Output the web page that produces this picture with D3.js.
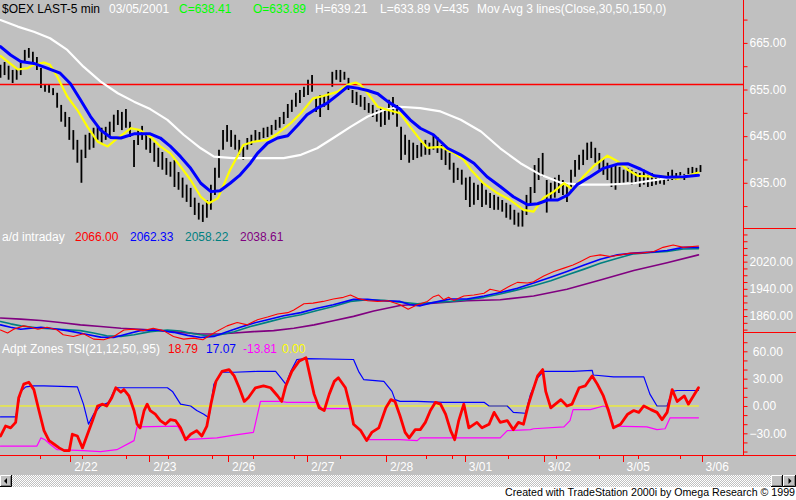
<!DOCTYPE html>
<html><head><meta charset="utf-8">
<script src="https://cdn.jsdelivr.net/npm/d3@7"></script>
<style>
body{margin:0;background:#fff}
svg{display:block}
text{font-family:"Liberation Sans",Arial,sans-serif}
</style>
</head><body><svg id="c" width="796" height="500"></svg>
<script>
// ---------------- DATA ----------------
const dayLabels = ["2/22","2/23","2/26","2/27","2/28","3/01","3/02","3/05","3/06"];
const dayStartBars = [69,147,225,303,381,459,537,615,693];
const minorTickBars = [39,81,124,166,209,250,290,336,421,446,502,549,592,630,672];
const barStep = 4;
const priceHigh = [660.3,660.9,660.1,659.2,659.6,661.3,663.5,663.9,663.1,662.0,
659.6,656.2,656.0,655.3,654.3,651.7,650.2,649.1,646.3,644.2,
642.1,645.3,645.7,646.8,647.0,646.8,647.0,648.1,649.6,650.6,
650.2,650.8,648.1,644.2,646.3,647.2,645.7,644.6,643.6,642.5,
641.6,640.3,639.5,639.9,637.3,636.1,634.6,633.9,631.8,630.7,
630.3,631.3,634.6,638.2,642.1,646.3,647.4,646.3,645.3,644.2,
642.7,644.6,645.3,646.3,645.9,646.8,647.0,647.4,648.5,649.1,
650.2,651.9,652.8,654.3,654.9,655.6,657.1,658.1,653.2,653.8,
653.8,654.5,658.8,659.2,659.2,658.8,657.5,654.9,654.5,653.8,
653.4,652.1,651.7,650.6,651.1,650.6,652.8,653.4,651.7,647.0,
645.3,644.2,643.6,643.1,643.6,644.2,643.6,645.3,644.8,643.1,
642.1,641.4,639.3,638.2,637.8,636.1,636.3,635.0,634.6,635.0,
633.5,632.8,632.4,632.0,631.3,630.7,630.3,629.2,628.6,629.2,
632.4,634.1,638.8,640.3,641.4,635.6,635.0,636.1,636.7,635.6,
635.0,637.8,639.9,641.0,642.1,643.6,643.8,642.5,641.4,640.3,
639.3,638.4,638.8,638.4,637.8,638.2,637.8,637.3,637.1,637.8,
636.7,637.1,636.3,636.5,636.1,637.3,637.8,637.1,637.3,636.9,
638.2,638.4,638.2,638.8];
const priceLow = [657.5,658.1,657.1,656.4,657.1,658.1,660.9,661.8,660.9,659.2,
655.3,654.5,654.3,653.8,651.1,648.1,647.0,644.2,642.1,639.3,
635.0,640.3,642.1,642.5,644.2,643.6,644.2,644.8,645.9,647.4,
646.3,646.8,644.8,638.4,643.1,644.2,642.1,641.4,639.5,638.4,
637.8,636.7,636.3,634.1,633.5,631.8,630.9,629.8,628.1,627.1,
626.6,627.5,629.2,632.4,636.1,642.1,643.8,642.7,642.1,641.0,
639.9,642.1,643.1,643.8,644.2,644.6,644.8,645.3,646.3,646.8,
647.6,648.9,650.2,651.3,652.1,653.4,653.8,654.5,650.2,649.1,
651.3,650.6,655.6,657.1,656.6,657.1,654.9,652.1,651.7,651.3,
650.6,650.0,649.1,648.1,647.0,647.4,648.5,649.6,647.0,639.9,
641.0,639.3,639.9,640.3,640.6,641.0,641.0,642.1,641.4,639.9,
638.8,637.8,635.0,635.6,634.6,631.3,629.8,630.3,631.3,629.8,
630.3,629.6,629.2,629.2,628.8,627.5,627.1,626.0,625.6,625.6,
628.1,630.3,632.8,635.6,636.3,628.6,631.3,631.8,632.8,632.4,
630.9,633.5,636.3,637.8,638.8,639.9,640.3,639.3,637.8,636.7,
635.6,634.1,633.5,634.6,635.0,635.2,634.6,634.8,634.1,634.6,
634.1,634.3,634.6,634.8,634.6,635.4,635.6,635.6,635.8,635.6,
636.3,636.5,636.7,637.3];
const ma30 = [[0,662.2],[17,659.3],[27,659.6],[33,660.3],[43,660.8],[49,660.3],[56,657.8],[66,653.5],[76,650.6],[86,647.0],[96,643.8],[106,642.8],[116,644.6],[129,646.7],[138,646.3],[148,644.9],[158,642.8],[168,641.3],[178,638.5],[188,635.6],[198,632.0],[206,630.6],[215,631.7],[220,634.2],[227,637.8],[234,640.6],[240,643.1],[250,643.8],[264,644.2],[274,645.6],[287,647.8],[297,649.9],[309,653.1],[319,653.6],[333,654.5],[343,656.0],[351,656.5],[356,656.0],[363,654.2],[373,651.3],[383,650.6],[395,649.9],[405,647.0],[415,644.2],[422,642.5],[435,642.7],[448,641.4],[458,639.9],[465,637.8],[477,635.0],[491,632.8],[504,631.3],[517,629.2],[527,628.8],[537,631.8],[547,633.1],[557,634.9],[566,633.5],[576,636.3],[586,638.5],[600,640.8],[610,639.6],[620,637.8],[630,636.5],[646,636.3],[659,636.3],[669,635.8],[679,636.5],[690,637.2]];
const ma50 = [[0,664.2],[10,662.4],[20,661.0],[33,660.6],[46,659.6],[59,658.5],[69,656.3],[79,652.8],[89,649.2],[99,646.3],[109,644.7],[119,644.6],[132,645.5],[148,645.5],[158,644.6],[168,642.8],[178,640.6],[188,638.1],[198,634.9],[208,633.1],[217,633.3],[227,634.9],[237,636.7],[247,639.2],[254,641.3],[264,643.5],[274,644.6],[284,645.1],[294,647.4],[303,649.6],[313,651.0],[323,652.1],[333,653.8],[343,655.6],[353,655.3],[363,654.8],[373,654.1],[383,652.4],[395,650.8],[405,648.5],[415,646.7],[428,645.3],[442,642.4],[455,641.0],[468,639.2],[481,636.3],[494,634.2],[507,632.0],[521,630.3],[531,630.5],[541,631.3],[551,631.3],[561,632.4],[570,634.6],[583,636.3],[596,638.1],[610,639.0],[620,639.1],[633,637.9],[646,636.5],[659,636.2],[675,636.3],[690,636.6]];
const ma150 = [[0,669.9],[17,668.5],[33,667.4],[49,666.0],[66,663.5],[82,659.9],[99,656.7],[116,654.2],[132,652.4],[148,650.8],[165,648.5],[181,645.3],[198,642.4],[211,640.6],[230,640.3],[264,640.3],[280,640.3],[297,641.0],[313,642.4],[329,644.6],[346,647.0],[363,649.2],[379,650.6],[395,651.3],[415,651.0],[435,650.3],[455,648.5],[475,646.0],[494,642.4],[514,639.2],[534,636.7],[554,635.0],[573,634.6],[600,634.6],[626,634.9],[653,635.8],[672,636.3],[690,636.9]];
const refLevel = 656.2;

const adRaw = [[0,1819],[7,1810],[13,1821],[23,1831],[30,1827],[37,1821],[46,1827],[56,1819],[62,1805],[72,1800],[82,1808],[92,1792],[102,1790],[112,1800],[122,1819],[131,1821],[141,1817],[151,1824],[161,1817],[171,1800],[181,1792],[191,1795],[200,1790],[208,1805],[215,1817],[224,1831],[234,1841],[244,1834],[254,1849],[264,1857],[274,1866],[284,1870],[290,1878],[300,1896],[309,1898],[319,1903],[329,1910],[339,1915],[346,1922],[353,1912],[363,1905],[373,1903],[383,1905],[395,1893],[403,1880],[412,1893],[422,1903],[428,1917],[433,1922],[438,1908],[443,1915],[448,1906],[458,1919],[468,1922],[478,1927],[484,1939],[494,1932],[504,1949],[511,1959],[521,1957],[527,1961],[537,1978],[547,1991],[557,2001],[566,2010],[573,2020],[583,2035],[593,2040],[603,2035],[613,2040],[623,2045],[633,2045],[646,2050],[655,2062],[665,2069],[675,2062],[690,2066]];
const adAvg1 = [[0,1834],[10,1827],[20,1821],[40,1827],[49,1824],[66,1817],[82,1808],[99,1798],[112,1797],[125,1807],[138,1817],[155,1819],[171,1812],[185,1803],[198,1797],[211,1800],[224,1814],[237,1827],[250,1839],[264,1849],[280,1861],[297,1870],[313,1883],[329,1893],[349,1909],[363,1909],[376,1905],[395,1903],[405,1893],[415,1890],[425,1898],[438,1906],[445,1910],[461,1910],[478,1919],[494,1929],[511,1942],[527,1957],[544,1974],[560,1991],[577,2010],[593,2027],[610,2040],[626,2045],[643,2048],[659,2053],[675,2062],[690,2062]];
const adAvg2 = [[0,1844],[10,1837],[20,1831],[40,1824],[59,1821],[79,1817],[92,1810],[105,1802],[119,1800],[132,1805],[148,1814],[165,1819],[178,1816],[191,1808],[204,1802],[217,1805],[231,1814],[247,1829],[264,1842],[280,1854],[297,1864],[313,1876],[329,1888],[346,1903],[363,1908],[379,1906],[395,1901],[412,1896],[428,1900],[445,1903],[461,1908],[478,1915],[494,1925],[511,1937],[527,1949],[544,1964],[560,1981],[577,1998],[593,2015],[610,2030],[626,2043],[643,2047],[659,2050],[675,2057],[690,2058]];
const adAvg3 = [[0,1854],[20,1851],[40,1847],[59,1841],[79,1834],[99,1829],[119,1824],[138,1821],[158,1817],[178,1812],[198,1807],[217,1807],[231,1810],[250,1814],[270,1817],[290,1824],[310,1834],[329,1846],[349,1859],[369,1875],[395,1891],[428,1898],[461,1905],[494,1908],[527,1919],[560,1939],[593,1966],[626,1994],[659,2017],[690,2040]];

const tsi = [[0,-33],[5,-22],[10,-24],[15,-18],[18,9],[23,24],[28,26],[33,18],[38,-5],[43,-27],[48,-38],[53,-42],[58,-46],[63,-49],[68,-49],[71,-31],[76,-33],[81,-46],[86,-31],[91,-16],[96,0],[101,2],[105,0],[110,9],[114,20],[119,15],[122,18],[127,11],[132,-5],[135,-20],[138,-24],[142,-5],[145,2],[148,-5],[153,-9],[158,-16],[163,-20],[168,-15],[173,-16],[178,-24],[183,-37],[188,-31],[194,-27],[199,-33],[204,-22],[208,2],[213,27],[219,38],[226,40],[231,33],[236,20],[241,5],[245,9],[252,20],[260,22],[267,20],[274,11],[278,5],[282,22],[288,38],[295,49],[302,53],[305,38],[310,13],[315,-2],[320,-5],[325,13],[330,27],[334,31],[341,20],[346,-2],[349,-20],[356,-27],[362,-38],[367,-29],[374,-24],[381,-2],[386,7],[390,5],[395,-11],[400,-29],[404,-35],[410,-26],[415,-26],[420,-18],[425,-5],[430,4],[435,2],[440,-9],[445,-27],[449,-37],[453,-16],[458,2],[463,-24],[471,-18],[476,-24],[483,-20],[488,-7],[494,-18],[501,-16],[507,-26],[512,-18],[517,-20],[522,2],[526,16],[531,33],[536,40],[539,16],[544,-2],[554,7],[560,0],[565,2],[572,20],[578,22],[585,33],[590,24],[596,11],[601,-5],[606,-24],[613,-20],[620,-9],[626,-5],[631,-7],[636,0],[643,-4],[649,-7],[654,-15],[659,-7],[664,18],[669,5],[676,11],[680,2],[685,11],[690,20]];
const tsiUpper = [[0,-12],[15,-12],[20,16],[25,21],[33,22],[43,22],[76,21],[82,2],[87,-20],[92,-9],[99,0],[107,4],[112,16],[115,20],[165,20],[170,16],[178,2],[188,0],[194,-5],[201,-9],[206,-13],[211,24],[219,37],[231,37],[254,38],[272,38],[277,31],[282,24],[287,38],[293,51],[302,52],[349,51],[354,38],[359,29],[379,27],[387,16],[390,7],[395,5],[412,5],[438,4],[478,4],[483,0],[501,0],[507,-7],[519,-8],[524,13],[531,31],[537,38],[566,38],[585,39],[586,34],[606,32],[636,32],[642,13],[649,0],[659,0],[664,16],[669,17],[690,17]];
const tsiLower = [[0,-44],[36,-44],[40,-35],[44,-37],[49,-42],[56,-48],[82,-49],[99,-50],[115,-48],[132,-38],[135,-23],[175,-22],[183,-37],[214,-35],[231,-32],[250,-29],[257,5],[277,5],[283,4],[313,4],[318,-3],[346,-3],[349,-20],[356,-26],[362,-37],[395,-37],[412,-38],[415,-35],[494,-35],[501,-27],[524,-26],[527,-25],[557,-23],[563,-16],[566,-4],[583,-4],[596,0],[601,-2],[606,-22],[639,-23],[649,-26],[657,-25],[662,-13],[690,-13]];
const tsiZero = [[0,0],[690,0]];

const priceTicks = [630,635,640,645,650,655,660,665,670];
const priceTickLabels = [635,645,655,665];
const adTicks = [1820,1840,1860,1880,1900,1920,1940,1960,1980,2000,2020,2040,2060,2080,2100];
const adTickLabels = [1860,1940,2020];
const tsiTicks = [-50,-40,-30,-20,-10,0,10,20,30,40,50,60,70];
const tsiTickLabels = [-30,0,30,60];

const priceHeader = [["$OEX LAST-5 min","#000"],["03/05/2001","#fff"],["C=638.41","#00ff00"],["O=633.89","#00ff00"],["H=639.21","#fff"],["L=633.89","#fff"],["V=435","#fff"],["Mov Avg 3 lines(Close,30,50,150,0)","#fff"]];
const adHeader = [["a/d intraday","#fff"],["2066.00","#ff0000"],["2062.33","#0000ff"],["2058.22","#008080"],["2038.61","#800080"]];
const tsiHeader = [["Adpt Zones TSI(21,12,50,.95)","#fff"],["18.79","#ff0000"],["17.07","#0000ff"],["-13.81","#ff00ff"],["0.00","#ffff00"]];
const creditText = "Created with TradeStation 2000i by Omega Research \u00a9 1999";

// ---------------- DRAW ----------------
const W = 796, H = 500;
const svg = d3.select("#c");
svg.append("rect").attr("width", W).attr("height", H).attr("fill", "#fff");
svg.append("rect").attr("width", W).attr("height", 475).attr("fill", "#c0c0c0");

const x = d3.scaleLinear().domain([0, 693]).range([0.5, 701.5]);
const yP = d3.scaleLinear().domain([625.3, 674.2]).range([228, 0]);
const yA = d3.scaleLinear().domain([1813, 2119]).range([332, 228]);
const yT = d3.scaleLinear().domain([-53.8, 81.2]).range([455, 332]);

// price bars
svg.append("g").selectAll("line").data(priceHigh).join("line")
  .attr("x1", (d, i) => x(i * barStep)).attr("x2", (d, i) => x(i * barStep))
  .attr("y1", d => yP(d)).attr("y2", (d, i) => yP(priceLow[i]))
  .attr("stroke", "#000").attr("stroke-width", 1.8);

// reference line
svg.append("line").attr("x1", 0).attr("x2", 743).attr("y1", Math.round(yP(refLevel)) + 0.5).attr("y2", Math.round(yP(refLevel)) + 0.5)
  .attr("stroke", "#ff0000").attr("stroke-width", 1.5);

function drawLine(data, ys, color, w) {
  svg.append("path").datum(data)
    .attr("d", d3.line().x(d => x(d[0])).y(d => ys(d[1])))
    .attr("fill", "none").attr("stroke", color).attr("stroke-width", w)
    .attr("stroke-linejoin", "round").attr("stroke-linecap", "round");
}
drawLine(ma150, yP, "#ffffff", 2.2);
drawLine(ma30, yP, "#ffff00", 2.2);
drawLine(ma50, yP, "#0000ff", 3);

drawLine(adAvg3, yA, "#800080", 1.6);
drawLine(adAvg2, yA, "#008080", 1.6);
drawLine(adAvg1, yA, "#0000ff", 1.6);
drawLine(adRaw, yA, "#ff0000", 1.1);

drawLine(tsiZero, yT, "#ffff00", 1);
drawLine(tsiLower, yT, "#ff00ff", 1.2);
drawLine(tsiUpper, yT, "#0000ff", 1.2);
drawLine(tsi, yT, "#ff0000", 2.8);

// right axes
const fmt = d3.format(".2f");
function rightAxis(scale, ticks, labels, padPositive) {
  const ax = d3.axisRight(scale).tickValues(ticks).tickSize(4).tickPadding(2).tickSizeOuter(0)
    .tickFormat(v => labels.includes(v) ? ((padPositive && v >= 0 ? "\u00a0" : "") + fmt(v)) : "");
  const g = svg.append("g").attr("transform", "translate(743.5,0)").call(ax);
  g.select(".domain").remove();
  g.selectAll("line").attr("stroke", "#ff0000");
  g.selectAll("text").attr("fill", "#fff").attr("font-size", 12)
    .attr("font-family", "'Liberation Sans',Arial,sans-serif");
  g.attr("font-family", null).attr("font-size", null);
}
rightAxis(yP, priceTicks, priceTickLabels, false);
rightAxis(yA, adTicks, adTickLabels, false);
rightAxis(yT, tsiTicks, tsiTickLabels, true);

// frame lines
svg.append("line").attr("x1", 743.5).attr("x2", 743.5).attr("y1", 0).attr("y2", 455).attr("stroke", "#ff0000");
svg.append("line").attr("x1", 743).attr("x2", 796).attr("y1", 228.5).attr("y2", 228.5).attr("stroke", "#ff0000");
svg.append("line").attr("x1", 743).attr("x2", 796).attr("y1", 332.5).attr("y2", 332.5).attr("stroke", "#ff0000");
svg.append("line").attr("x1", 0).attr("x2", 796).attr("y1", 455.5).attr("y2", 455.5).attr("stroke", "#ff0000");

// x axis ticks
const gx = svg.append("g");
gx.selectAll("line.maj").data(dayStartBars).join("line").attr("class", "maj")
  .attr("x1", d => Math.round(x(d)) + 0.5).attr("x2", d => Math.round(x(d)) + 0.5)
  .attr("y1", 455).attr("y2", 462).attr("stroke", "#ff0000");
gx.selectAll("line.min").data(minorTickBars).join("line").attr("class", "min")
  .attr("x1", d => Math.round(x(d)) + 0.5).attr("x2", d => Math.round(x(d)) + 0.5)
  .attr("y1", 455).attr("y2", 459).attr("stroke", "#ff0000");
gx.selectAll("text").data(dayLabels).join("text")
  .attr("x", (d, i) => x(dayStartBars[i]) + 4).attr("y", 471)
  .attr("fill", "#fff").attr("font-size", 12).text(d => d);

// headers
function header(items, xs, yb) {
  svg.append("g").selectAll("text").data(items).join("text")
    .attr("x", (d, i) => xs[i]).attr("y", yb)
    .attr("fill", d => d[1]).attr("font-size", 12).text(d => d[0]);
}
header(priceHeader, [2, 109, 179, 253, 315, 380, 434, 477], 13);
header(adHeader, [2, 75, 130, 185, 240], 241);
header(tsiHeader, [2, 168, 206, 243, 282], 353);

// scrollbar
const defs = svg.append("defs");
const pat = defs.append("pattern").attr("id", "dither").attr("width", 2).attr("height", 2).attr("patternUnits", "userSpaceOnUse");
pat.append("rect").attr("width", 2).attr("height", 2).attr("fill", "#c0c0c0");
pat.append("rect").attr("width", 1).attr("height", 1).attr("fill", "#fff");
pat.append("rect").attr("x", 1).attr("y", 1).attr("width", 1).attr("height", 1).attr("fill", "#fff");
svg.append("rect").attr("x", 0).attr("y", 475).attr("width", 796).attr("height", 12).attr("fill", "url(#dither)");

function button(x0, w, arrow) {
  const g = svg.append("g");
  const y0 = 475, h = 12;
  g.append("rect").attr("x", x0).attr("y", y0).attr("width", w).attr("height", h).attr("fill", "#c0c0c0");
  g.append("path").attr("d", `M${x0 + 0.5},${y0 + h - 1}V${y0 + 0.5}H${x0 + w - 1}`).attr("stroke", "#fff").attr("fill", "none");
  g.append("path").attr("d", `M${x0},${y0 + h - 0.5}H${x0 + w - 0.5}V${y0}`).attr("stroke", "#000").attr("fill", "none");
  g.append("path").attr("d", `M${x0 + 1},${y0 + h - 1.5}H${x0 + w - 1.5}V${y0 + 1}`).attr("stroke", "#808080").attr("fill", "none");
  const cx = x0 + w / 2, cy = y0 + h / 2;
  if (arrow === "left") g.append("path").attr("d", `M${cx - 2},${cy}L${cx + 1},${cy - 3}L${cx + 1},${cy + 3}Z`).attr("fill", "#000");
  if (arrow === "right") g.append("path").attr("d", `M${cx + 2},${cy}L${cx - 1},${cy - 3}L${cx - 1},${cy + 3}Z`).attr("fill", "#000");
}
button(0, 12, "left");
button(771, 12, null);
button(783, 13, "right");

svg.append("text").attr("x", 505).attr("y", 496).attr("font-size", 10.5).attr("fill", "#000")
  .attr("textLength", 290).attr("lengthAdjust", "spacingAndGlyphs").text(creditText);
</script>
</body></html>
